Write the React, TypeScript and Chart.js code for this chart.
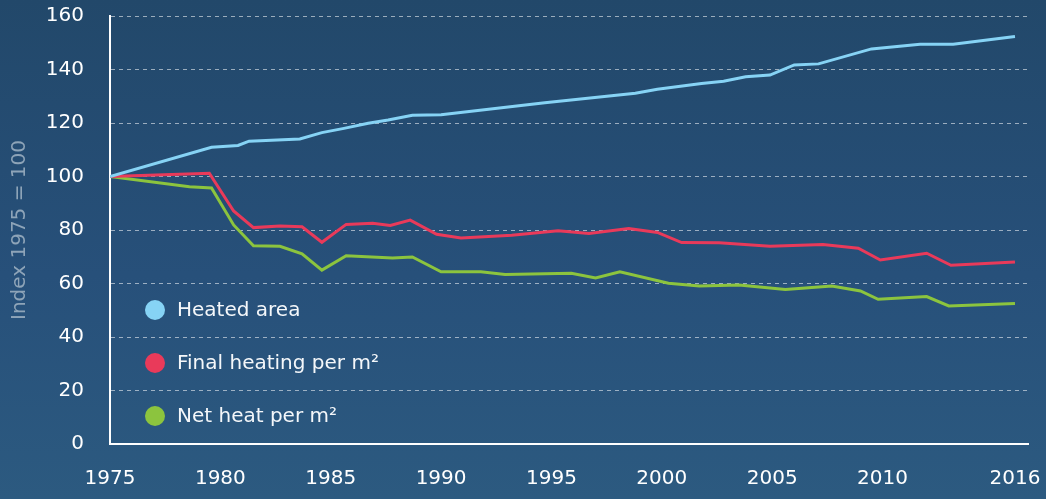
import React, { useEffect, useRef } from "react";
import { Chart, registerables } from "chart.js";

Chart.register(...registerables);

// x positions are years (1975 at the axis, 2016 at the line end)
const heatedYears = [1975, 1979.6, 1980.8, 1981.3, 1983.6, 1984.6, 1985.6, 1986.7, 1987.6, 1988.7, 1990.0, 1994.7, 1998.8, 1999.8, 2001.8, 2002.8, 2003.8, 2004.9, 2006.0, 2007.1, 2009.5, 2011.7, 2013.2, 2016];
const heatedArea = [100, 110.9, 111.6, 113.2, 114.0, 116.4, 118.0, 119.9, 121.1, 122.9, 123.1, 127.6, 131.1, 132.6, 134.8, 135.6, 137.3, 137.9, 141.7, 142.1, 147.7, 149.4, 149.4, 152.3];

const finalYears = [1975, 1979.5, 1980.6, 1981.5, 1982.7, 1983.7, 1984.6, 1985.7, 1986.9, 1987.7, 1988.6, 1989.8, 1990.9, 1993.2, 1995.3, 1996.7, 1998.5, 1999.8, 2000.9, 2002.6, 2004.9, 2007.3, 2008.9, 2009.9, 2012.0, 2013.1, 2016];
const finalHeating = [100, 101.2, 87.1, 80.9, 81.5, 81.2, 75.4, 82.1, 82.5, 81.7, 83.7, 78.4, 77.0, 78.0, 79.7, 78.7, 80.6, 79.1, 75.3, 75.2, 73.9, 74.6, 73.2, 68.8, 71.3, 66.8, 68.0];

const netYears = [1975, 1978.6, 1979.6, 1980.6, 1981.5, 1982.7, 1983.7, 1984.6, 1985.7, 1987.8, 1988.7, 1990.0, 1991.8, 1992.9, 1995.9, 1997.0, 1998.1, 2000.3, 2001.7, 2003.5, 2005.6, 2007.7, 2009.0, 2009.8, 2012.0, 2013.0, 2016];
const netHeat = [100, 96.2, 95.7, 81.9, 74.1, 73.9, 71.1, 65.0, 70.4, 69.5, 69.9, 64.4, 64.4, 63.4, 63.8, 62.1, 64.4, 60.1, 59.1, 59.4, 57.8, 59.1, 57.2, 54.1, 55.1, 51.6, 52.5];

const xTicks = [1975, 1980, 1985, 1990, 1995, 2000, 2005, 2010, 2016];
const yTicks = [0, 20, 40, 60, 80, 100, 120, 140, 160];

const seriesLabels = ["Heated area", "Final heating per m\u00B2", "Net heat per m\u00B2"];
const seriesColors = ["#86d3f5", "#e93a5a", "#8cc43e"];

const FONT = "'DejaVu Sans', sans-serif";

const legendPlugin = {
  id: "insideLegend",
  afterDatasetsDraw(chart: any) {
    const { ctx, chartArea } = chart;
    ctx.save();
    chart.data.datasets.forEach((ds: any, i: number) => {
      const cy = chartArea.bottom - 134 + i * 53;
      const cx = chartArea.left + 45;
      ctx.beginPath();
      ctx.arc(cx, cy, 10, 0, Math.PI * 2);
      ctx.fillStyle = ds.borderColor;
      ctx.fill();
      ctx.fillStyle = "#f4f7fa";
      ctx.font = "20px " + FONT;
      ctx.textBaseline = "middle";
      ctx.textAlign = "left";
      ctx.fillText(ds.label, chartArea.left + 67, cy + 1);
    });
    ctx.restore();
  },
};

function toPoints(xs: number[], ys: number[]) {
  return xs.map((x, i) => ({ x, y: ys[i] }));
}

export default function App() {
  const ref = useRef<HTMLCanvasElement | null>(null);

  useEffect(() => {
    document.body.style.margin = "0";
    document.body.style.background = "#27507a";
    const canvas = ref.current!;
    const chart = new Chart(canvas, {
      type: "line",
      data: {
        datasets: [
          { label: seriesLabels[0], data: toPoints(heatedYears, heatedArea), borderColor: seriesColors[0], backgroundColor: seriesColors[0] },
          { label: seriesLabels[1], data: toPoints(finalYears, finalHeating), borderColor: seriesColors[1], backgroundColor: seriesColors[1] },
          { label: seriesLabels[2], data: toPoints(netYears, netHeat), borderColor: seriesColors[2], backgroundColor: seriesColors[2] },
        ].map((d) => ({ ...d, borderWidth: 3, pointRadius: 0, tension: 0, fill: false })),
      },
      options: {
        animation: false,
        responsive: false,
        events: [],
        layout: { padding: { top: 16, right: 18, left: 0, bottom: 0 } },
        plugins: { legend: { display: false }, tooltip: { enabled: false }, title: { display: false } },
        scales: {
          x: {
            type: "linear",
            min: 1975,
            max: 2016.59,
            afterBuildTicks: (scale: any) => {
              scale.ticks = xTicks.map((v) => ({ value: v }));
            },
            afterFit: (scale: any) => {
              scale.height = 55;
              scale.paddingLeft = 0;
              scale.paddingRight = 0;
              scale.paddingTop = 0;
              scale.paddingBottom = 0;
            },
            grid: { display: false, drawTicks: false },
            border: { display: true, color: "#ffffff", width: 2 },
            ticks: {
              color: "#ffffff",
              font: { family: FONT, size: 20 },
              padding: 23,
              maxRotation: 0,
              autoSkip: false,
              callback: (v: any) => String(v),
            },
          },
          y: {
            type: "linear",
            min: 0,
            max: 160,
            afterBuildTicks: (scale: any) => {
              scale.ticks = yTicks.map((v) => ({ value: v }));
            },
            afterFit: (scale: any) => {
              scale.width = 110;
              scale.paddingLeft = 0;
              scale.paddingRight = 0;
              scale.paddingTop = 0;
              scale.paddingBottom = 0;
            },
            grid: {
              drawTicks: false,
              lineWidth: 1,
              color: (c: any) => (c.tick && c.tick.value === 0 ? "rgba(0,0,0,0)" : "rgba(255,255,255,0.55)"),
            },
            border: { display: true, color: "#ffffff", width: 2, dash: [4, 4] },
            ticks: {
              color: "#ffffff",
              font: { family: FONT, size: 20 },
              padding: 26,
              callback: (v: any) => String(v),
            },
            title: {
              display: true,
              text: "Index 1975 = 100",
              color: "#8ea4b8",
              font: { family: FONT, size: 20 },
              padding: { top: 8, bottom: 0 },
            },
          },
        },
      },
      plugins: [legendPlugin],
    } as any);
    return () => chart.destroy();
  }, []);

  return (
    <div
      style={{
        width: 1046,
        height: 499,
        background: "linear-gradient(180deg, #22486a 0%, #27507a 55%, #2c5a80 100%)",
      }}
    >
      <canvas ref={ref} width={1046} height={499} style={{ display: "block" }} />
    </div>
  );
}
